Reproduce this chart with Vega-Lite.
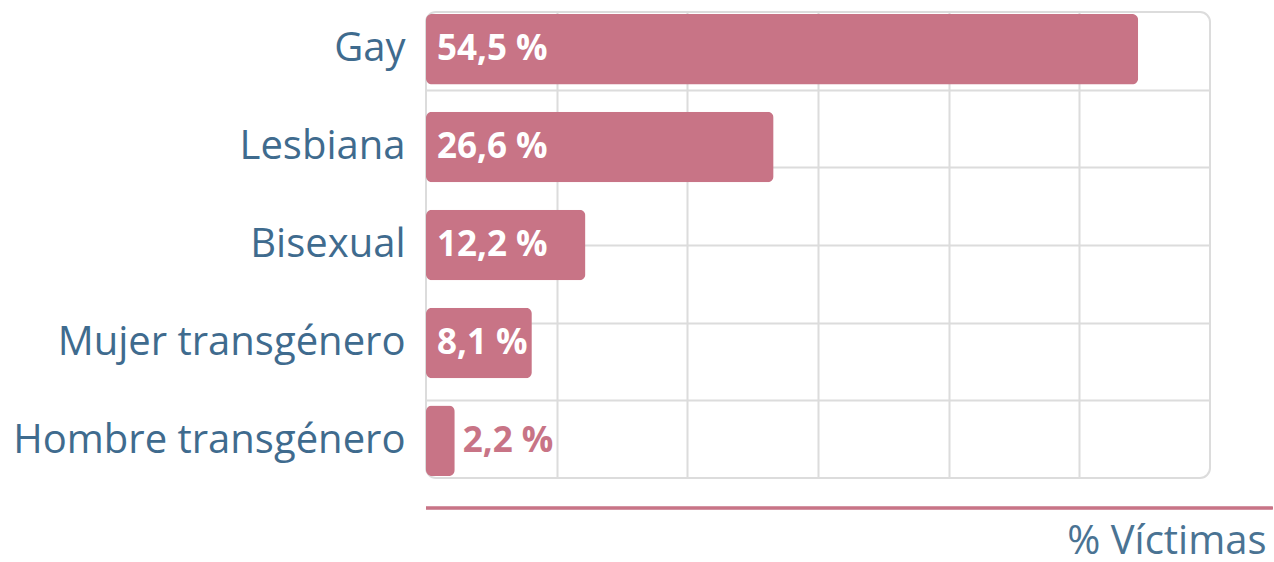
{
  "$schema": "https://vega.github.io/schema/vega-lite/v6.json",
  "autosize": {"type": "none"},
  "width": 784,
  "height": 466,
  "padding": {"left": 426, "top": 12, "right": 64, "bottom": 84},
  "background": "white",
  "config": {
    "font": "Open Sans",
    "view": {"stroke": "#dcdcdc", "strokeWidth": 2, "cornerRadius": 10}
  },
  "data": {
    "values": [
      {"cat": "Gay", "pct": 54.5, "label": "54,5 %"},
      {"cat": "Lesbiana", "pct": 26.6, "label": "26,6 %"},
      {"cat": "Bisexual", "pct": 12.2, "label": "12,2 %"},
      {"cat": "Mujer transgénero", "pct": 8.1, "label": "8,1 %"},
      {"cat": "Hombre transgénero", "pct": 2.2, "label": "2,2 %"}
    ]
  },
  "layer": [
    {
      "mark": {"type": "rule", "color": "#c87486", "strokeWidth": 2.5},
      "encoding": {
        "x": {"datum": 0},
        "x2": {"datum": 64.8},
        "y": {
          "datum": -0.386,
          "type": "quantitative",
          "scale": {"domain": [0, 6], "nice": false, "zero": false},
          "axis": {
            "orient": "right",
            "grid": true,
            "gridColor": "#dcdcdc",
            "gridWidth": 2,
            "values": [1, 2, 3, 4, 5],
            "labels": false,
            "ticks": false,
            "domain": false,
            "title": null
          }
        }
      }
    },
    {
      "layer": [
        {
          "mark": {"type": "bar", "color": "#c87486", "cornerRadius": 6},
          "encoding": {
            "y": {
              "field": "cat",
              "type": "nominal",
              "sort": null,
              "scale": {"paddingInner": 0.28, "paddingOuter": 0.02},
              "axis": {
                "title": null,
                "ticks": false,
                "domain": false,
                "labelFontSize": 40,
                "labelColor": "#3f6b8e",
                "labelPadding": 21,
                "labelLimit": 500
              }
            },
            "x": {
              "field": "pct",
              "type": "quantitative",
              "scale": {"domain": [0, 60], "nice": false},
              "axis": {
                "grid": true,
                "gridColor": "#dcdcdc",
                "gridWidth": 2,
                "values": [10, 20, 30, 40, 50],
                "labels": false,
                "ticks": false,
                "domain": false,
                "title": "% Víctimas",
                "titleFontSize": 40,
                "titleFontWeight": "normal",
                "titleColor": "#4a7393",
                "titleAlign": "right",
                "titleAnchor": "end",
                "titleX": 840,
                "titleY": 83,
                "titleBaseline": "bottom"
              }
            }
          }
        },
        {
          "transform": [{"filter": "datum.pct > 5"}],
          "mark": {"type": "text", "align": "left", "baseline": "middle", "dx": 11, "fontSize": 35, "fontWeight": "bold", "color": "white"},
          "encoding": {
            "y": {"field": "cat", "type": "nominal", "sort": null},
            "x": {"datum": 0},
            "text": {"field": "label"}
          }
        },
        {
          "transform": [{"filter": "datum.pct <= 5"}],
          "mark": {"type": "text", "align": "left", "baseline": "middle", "dx": 8, "fontSize": 35, "fontWeight": "bold", "color": "#c87486"},
          "encoding": {
            "y": {"field": "cat", "type": "nominal", "sort": null},
            "x": {"field": "pct", "type": "quantitative"},
            "text": {"field": "label"}
          }
        }
      ]
    }
  ],
  "resolve": {"scale": {"y": "independent"}}
}
